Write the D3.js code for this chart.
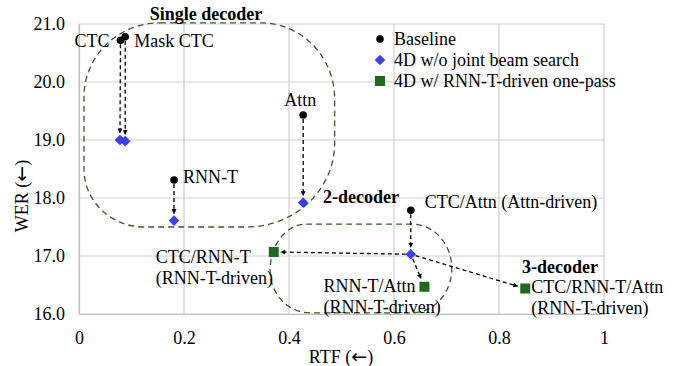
<!DOCTYPE html>
<html><head><meta charset="utf-8">
<script src="https://cdn.jsdelivr.net/npm/d3@7"></script>
<style>
html,body{margin:0;padding:0;background:#fff;}
svg text{font-family:"Liberation Serif","Times New Roman",serif;}
svg text tspan.arr{font-family:"DejaVu Sans",sans-serif;}
</style></head>
<body><svg id="c" width="678" height="366"></svg>
<script>
// ---- data ----
const xTicks = [0, 0.2, 0.4, 0.6, 0.8, 1];
const yTicks = [16, 17, 18, 19, 20, 21];
const baseLabels = ["CTC", "Mask CTC", "Attn", "RNN-T", "CTC/Attn (Attn-driven)"];
const baseRTF = [0.079, 0.088, 0.427, 0.181, 0.632];
const baseWER = [20.72, 20.78, 19.43, 18.31, 17.79];
const fourDRTF = [0.078, 0.088, 0.427, 0.181, 0.632];
const fourDWER = [19.00, 18.98, 17.92, 17.61, 17.03];
const oneLabels = [["CTC/RNN-T", "(RNN-T-driven)"], ["RNN-T/Attn", "(RNN-T-driven)"], ["CTC/RNN-T/Attn", "(RNN-T-driven)"]];
const oneRTF = [0.371, 0.658, 0.850];
const oneWER = [17.07, 16.47, 16.44];
const legendLabels = ["Baseline", "4D w/o joint beam search", "4D w/ RNN-T-driven one-pass"];
const groupLabels = ["Single decoder", "2-decoder", "3-decoder"];
const axisTitles = ["RTF", "WER"];
// group outlines as [xmin, xmax, ymin, ymax] in data units
const singleBox = [0.0095, 0.487, 17.50, 21.02];
const twoBox = [0.364, 0.710, 16.02, 17.55];

// ---- layout ----
const svg = d3.select("#c");
const M = {l: 79, r: 604, t: 24, b: 314};
const x = d3.scaleLinear().domain([0, 1]).range([M.l, M.r]);
const y = d3.scaleLinear().domain([16, 21]).range([M.b, M.t]);
const FS = 18;
const gridC = "#cfcfcf";
const blue = "#3c3cff", green = "#1d6b1d", black = "#000", outline = "#3d5a2a";

// grid
svg.append("g").selectAll("line").data(xTicks).join("line")
  .attr("x1", d => x(d)).attr("x2", d => x(d)).attr("y1", M.t).attr("y2", M.b)
  .attr("stroke", gridC).attr("stroke-width", 1.2);
svg.append("g").selectAll("line").data(yTicks).join("line")
  .attr("x1", M.l).attr("x2", M.r).attr("y1", d => y(d)).attr("y2", d => y(d))
  .attr("stroke", gridC).attr("stroke-width", 1.2);

// axes
const xa = svg.append("g").attr("transform", `translate(0,${M.b})`)
  .call(d3.axisBottom(x).tickValues(xTicks).tickSize(0).tickPadding(17).tickFormat(d3.format("")));
xa.select(".domain").attr("stroke", "#bfbfbf").attr("stroke-width", 1.2);
xa.selectAll("text").attr("font-size", FS).attr("fill", "#000").attr("font-family", "Liberation Serif");
const ya = svg.append("g").attr("transform", `translate(${M.l},0)`)
  .call(d3.axisLeft(y).tickValues(yTicks).tickSize(0).tickPadding(14).tickFormat(d3.format(".1f")));
ya.select(".domain").attr("stroke", "#bfbfbf").attr("stroke-width", 1.2);
ya.selectAll("text").attr("font-size", FS).attr("fill", "#000").attr("font-family", "Liberation Serif");

function axisTitle(sel, name) {
  sel.append("tspan").text(name + " (");
  sel.append("tspan").attr("class", "arr").attr("font-size", 19).text("\u2190");
  sel.append("tspan").text(")");
}
svg.append("text").attr("x", 341).attr("y", 363).attr("text-anchor", "middle")
  .attr("font-size", FS).call(axisTitle, axisTitles[0]);
svg.append("text").attr("transform", `translate(28,196) rotate(-90)`)
  .attr("text-anchor", "middle").attr("font-size", FS).call(axisTitle, axisTitles[1]);

// group outlines (rounded rectangles, per-corner radii: tl, tr, br, bl as [rx, ry])
function roundedRect(b, c) {
  const x0 = x(b[0]), x1 = x(b[1]), y0 = y(b[3]), y1 = y(b[2]);
  const k = 0.4477;
  const [tl, tr, br, bl] = c;
  const p = d3.path();
  p.moveTo(x0 + tl[0], y0);
  p.lineTo(x1 - tr[0], y0);
  p.bezierCurveTo(x1 - tr[0] * k, y0, x1, y0 + tr[1] * k, x1, y0 + tr[1]);
  p.lineTo(x1, y1 - br[1]);
  p.bezierCurveTo(x1, y1 - br[1] * k, x1 - br[0] * k, y1, x1 - br[0], y1);
  p.lineTo(x0 + bl[0], y1);
  p.bezierCurveTo(x0 + bl[0] * k, y1, x0, y1 - bl[1] * k, x0, y1 - bl[1]);
  p.lineTo(x0, y0 + tl[1]);
  p.bezierCurveTo(x0, y0 + tl[1] * k, x0 + tl[0] * k, y0, x0 + tl[0], y0);
  p.closePath();
  return p.toString();
}
svg.append("path").attr("d", roundedRect(singleBox, [[76, 74], [74, 76], [88, 84], [60, 58]]))
  .attr("fill", "none").attr("stroke", outline).attr("stroke-width", 1.3).attr("stroke-dasharray", "6,4");
svg.append("path").attr("d", roundedRect(twoBox, [[36, 46], [40, 44], [40, 44], [40, 42]]))
  .attr("fill", "none").attr("stroke", outline).attr("stroke-width", 1.3).attr("stroke-dasharray", "6,4");

// arrow marker
svg.append("defs").append("marker").attr("id", "ah").attr("viewBox", "0 0 10 10")
  .attr("refX", 9).attr("refY", 5).attr("markerWidth", 5).attr("markerHeight", 5)
  .attr("markerUnits", "userSpaceOnUse").attr("orient", "auto")
  .append("path").attr("d", "M0,0L10,5L0,10Z").attr("fill", "#000");

function arrow(x1, y1, x2, y2, s0, s1) {
  const dx = x2 - x1, dy = y2 - y1, L = Math.hypot(dx, dy);
  const ux = dx / L, uy = dy / L;
  svg.append("line").attr("x1", x1 + ux * s0).attr("y1", y1 + uy * s0)
    .attr("x2", x2 - ux * s1).attr("y2", y2 - uy * s1)
    .attr("stroke", "#000").attr("stroke-width", 1.3).attr("stroke-dasharray", "4,3")
    .attr("marker-end", "url(#ah)");
}
baseRTF.forEach((d, i) => arrow(x(d), y(baseWER[i]), x(fourDRTF[i]), y(fourDWER[i]), 4, 7));
const src = 4;
oneRTF.forEach((d, i) => arrow(x(fourDRTF[src]), y(fourDWER[src]), x(d), y(oneWER[i]), 5, [7, 9, 8][i]));

// markers
svg.append("g").selectAll("circle").data(baseRTF).join("circle")
  .attr("cx", d => x(d)).attr("cy", (d, i) => y(baseWER[i])).attr("r", 3.8).attr("fill", black);
const dia = d3.symbol().type(d3.symbolSquare).size(56);
svg.append("g").selectAll("path").data(fourDRTF).join("path")
  .attr("transform", (d, i) => `translate(${x(d)},${y(fourDWER[i])}) rotate(45)`)
  .attr("d", dia).attr("fill", blue);
svg.append("g").selectAll("rect").data(oneRTF).join("rect")
  .attr("x", d => x(d) - 5).attr("y", (d, i) => y(oneWER[i]) - 5)
  .attr("width", 10).attr("height", 10).attr("fill", green);

// point labels
const baseOff = [[-11, 7, "end"], [9, 10, "start"], [-3, -9, "middle"], [9, 3, "start"], [14, -2, "start"]];
baseLabels.forEach((t, i) => {
  svg.append("text").attr("x", x(baseRTF[i]) + baseOff[i][0]).attr("y", y(baseWER[i]) + baseOff[i][1])
    .attr("text-anchor", baseOff[i][2]).attr("font-size", FS).text(t);
});
const oneOff = [[-118, 11], [-101, 5], [6, 5]];
oneLabels.forEach((ls, i) => {
  ls.forEach((t, j) => {
    svg.append("text").attr("x", x(oneRTF[i]) + oneOff[i][0]).attr("y", y(oneWER[i]) + oneOff[i][1] + j * 21)
      .attr("font-size", FS).text(t);
  });
});

// group labels
const gl = [[206, 20], [361, 203], [560, 273]];
groupLabels.forEach((t, i) => {
  svg.append("text").attr("x", gl[i][0]).attr("y", gl[i][1]).attr("text-anchor", "middle")
    .attr("font-size", FS).attr("font-weight", "bold").text(t);
});

// legend
const lg = svg.append("g").attr("transform", "translate(380,39)");
legendLabels.forEach((t, i) => {
  const g = lg.append("g").attr("transform", `translate(0,${i * 21})`);
  if (i === 0) g.append("circle").attr("r", 3.8).attr("fill", black);
  if (i === 1) g.append("path").attr("d", dia).attr("transform", "rotate(45)").attr("fill", blue);
  if (i === 2) g.append("rect").attr("x", -5).attr("y", -5).attr("width", 10).attr("height", 10).attr("fill", green);
  g.append("text").attr("x", 14).attr("y", 6).attr("font-size", FS).text(t);
});
</script></body></html>
